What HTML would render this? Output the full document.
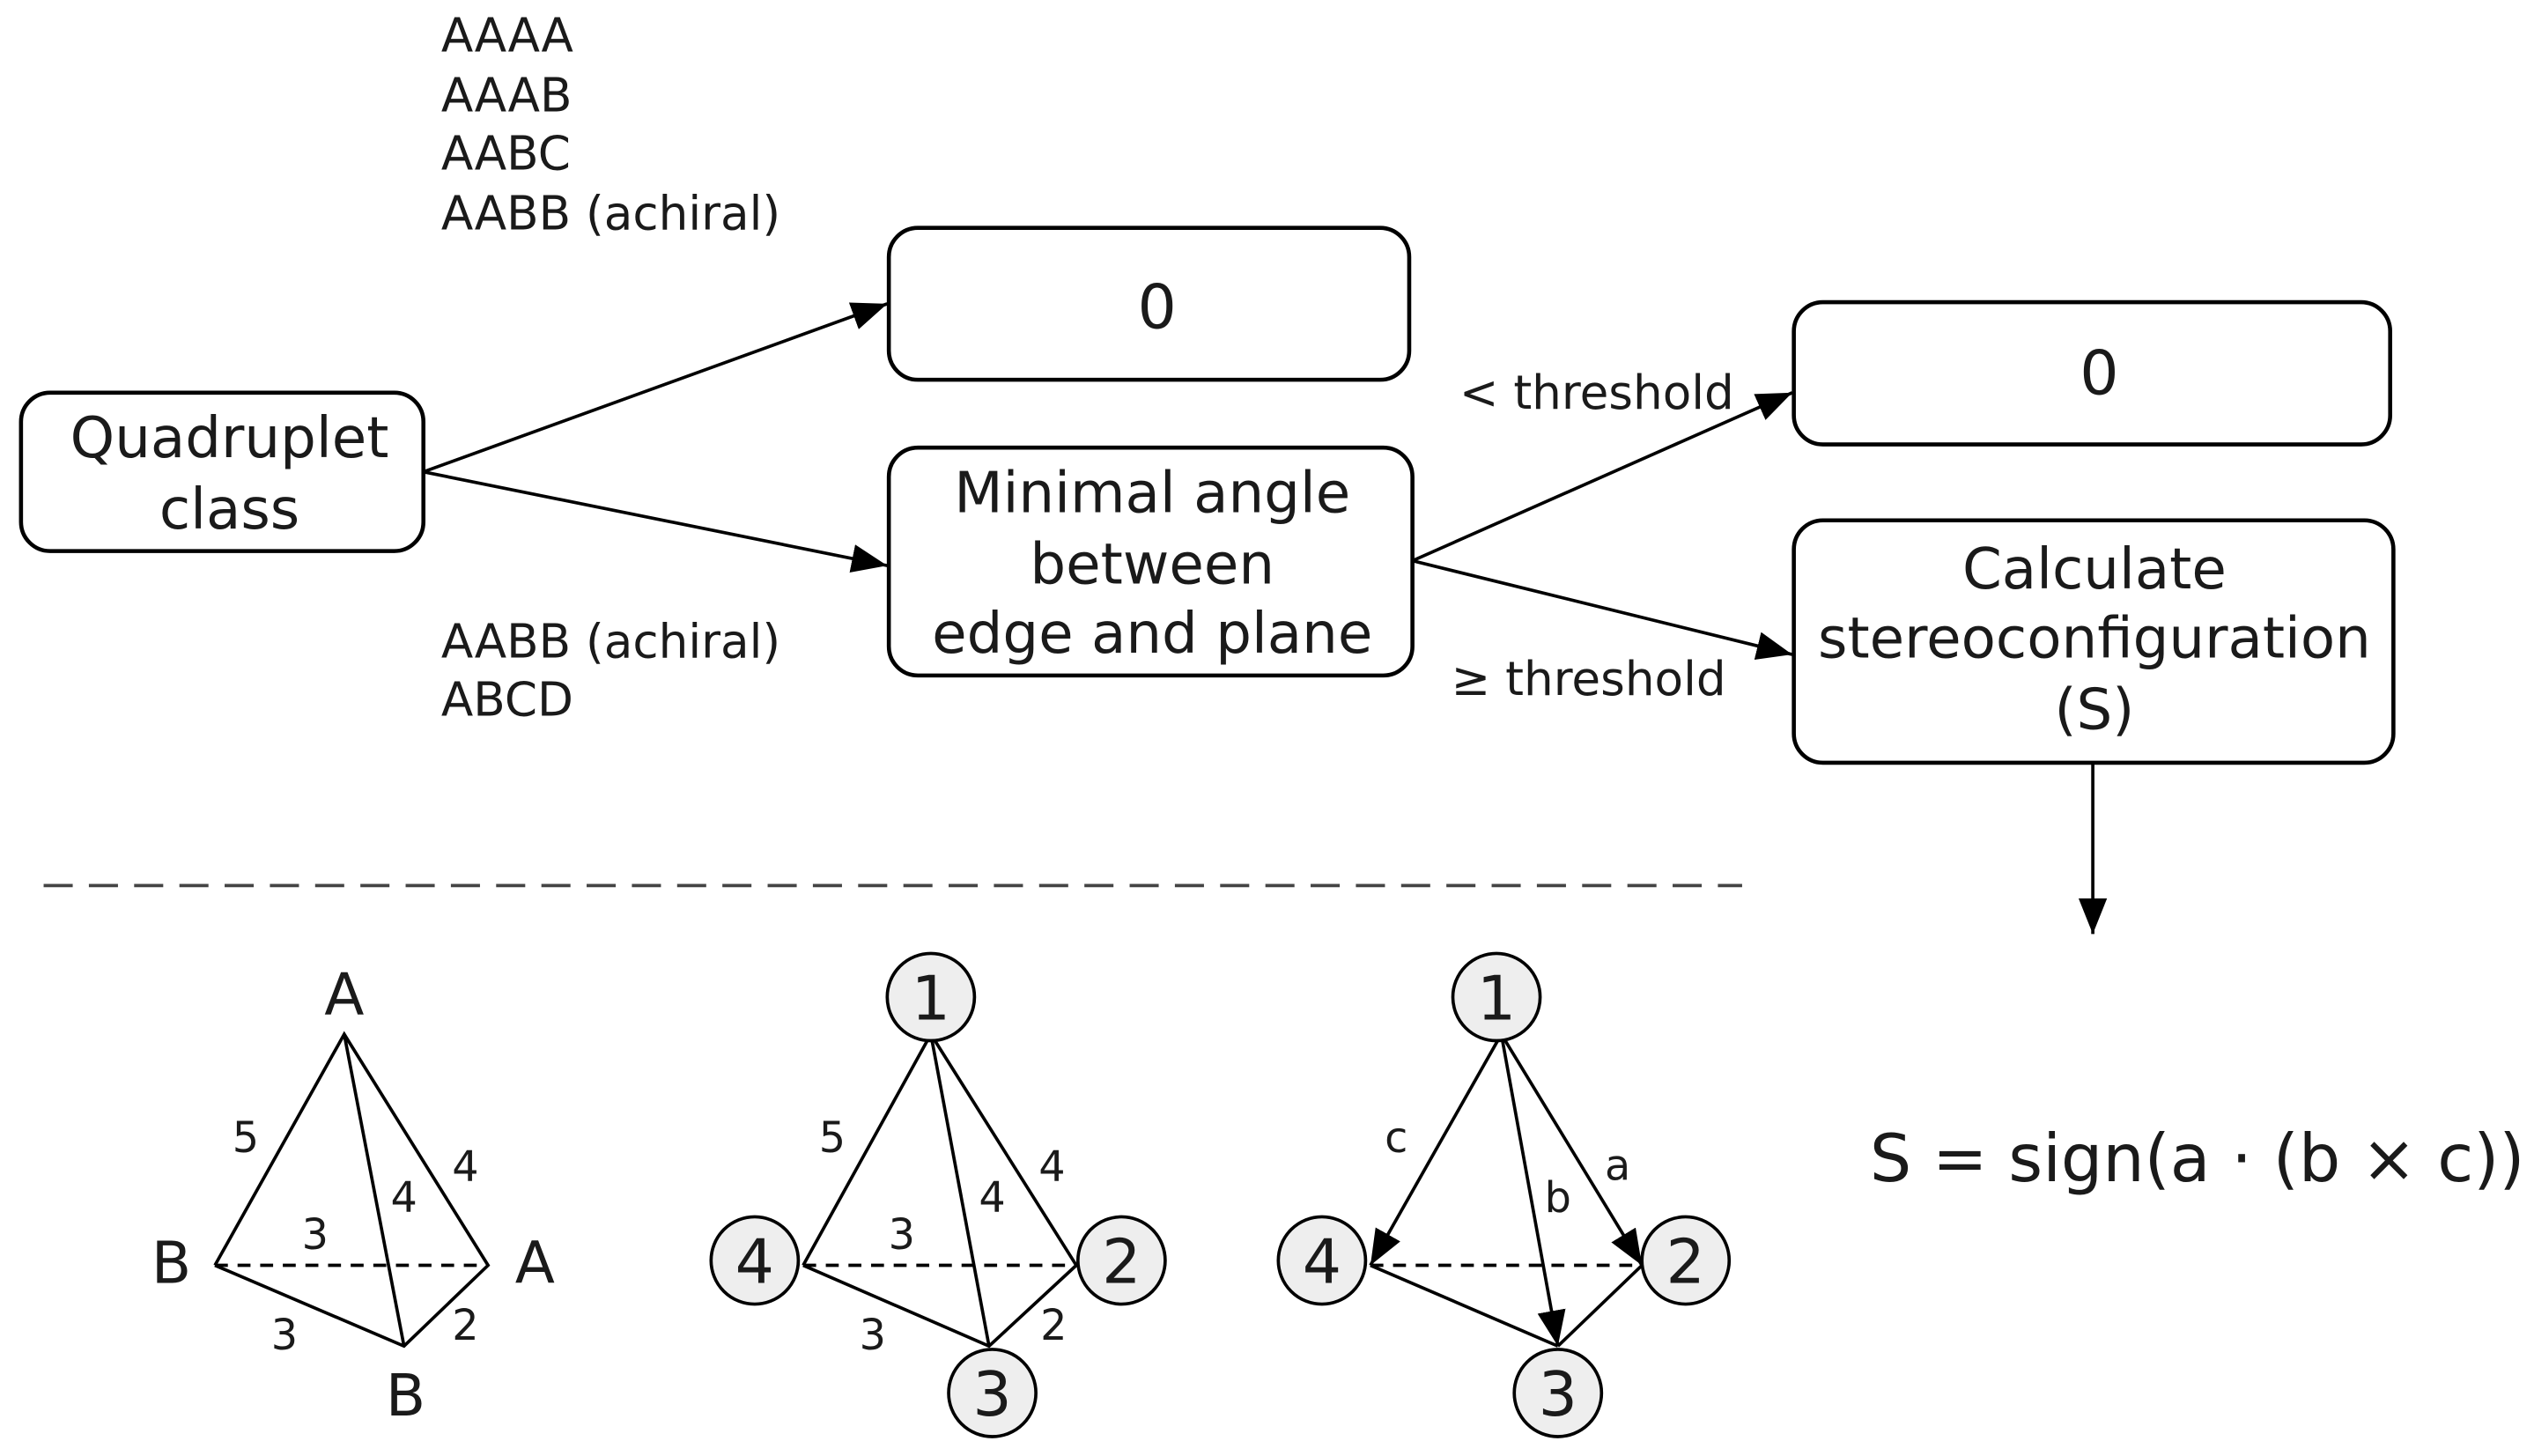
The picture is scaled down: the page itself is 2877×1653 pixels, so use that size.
<!DOCTYPE html>
<html><head><meta charset="utf-8"><style>
html,body{margin:0;padding:0;background:#fff;}
svg{display:block;}
text{font-family:"DejaVu Sans","Liberation Sans",sans-serif;fill:#1a1a1a;}
</style></head><body>
<svg width="2877" height="1653" viewBox="0 0 1568 901" preserveAspectRatio="none" xmlns="http://www.w3.org/2000/svg">
<defs>
<marker id="ahb" viewBox="0 0 10 10" refX="10" refY="5" markerWidth="22" markerHeight="22" markerUnits="userSpaceOnUse" orient="auto">
<path d="M0,1 L10,5 L0,9 z" fill="#000"/></marker>
</defs>
<g font-size="29">
<text x="273" y="32">AAAA</text>
<text x="273" y="69">AAAB</text>
<text x="273" y="105">AABC</text>
<text x="273" y="142">AABB (achiral)</text>
<text x="273" y="407">AABB (achiral)</text>
<text x="273" y="443">ABCD</text>
<text x="903" y="253">&lt; threshold</text>
<text x="898" y="430">≥ threshold</text>
</g>
<g fill="#fff" stroke="#000" stroke-width="2.5">
<rect x="13" y="243" width="249" height="98" rx="18"/>
<rect x="550" y="141" width="322" height="94" rx="18"/>
<rect x="550" y="277" width="324" height="141" rx="18"/>
<rect x="1110" y="187" width="369" height="88" rx="18"/>
<rect x="1110" y="322" width="371" height="150" rx="18"/>
</g>
<g font-size="35" text-anchor="middle">
<text x="142" y="283">Quadruplet</text>
<text x="142" y="327">class</text>
<text x="716" y="203" font-size="38">0</text>
<text x="713" y="317">Minimal angle</text>
<text x="713" y="361">between</text>
<text x="713" y="404">edge and plane</text>
<text x="1299" y="244" font-size="38">0</text>
<text x="1296" y="364">Calculate</text>
<text x="1296" y="407">stereoconfiguration</text>
<text x="1296" y="451">(S)</text>
</g>
<g stroke="#000" stroke-width="2" fill="none">
<line x1="262" y1="292" x2="549" y2="188" marker-end="url(#ahb)"/>
<line x1="262" y1="292" x2="549" y2="350" marker-end="url(#ahb)"/>
<line x1="874" y1="347" x2="1109" y2="243" marker-end="url(#ahb)"/>
<line x1="874" y1="347" x2="1109" y2="405" marker-end="url(#ahb)"/>
<line x1="1295" y1="472" x2="1295" y2="578" marker-end="url(#ahb)"/>
<line x1="27" y1="548" x2="1078" y2="548" stroke-dasharray="18,10" stroke="#444"/>
</g>
<text x="1157" y="731" font-size="40.7">S = sign(a · (b × c))</text>
<g stroke="#000" stroke-width="2" fill="none">
<polyline points="133,783 213,640 302,783 250,833 133,783"/>
<line x1="213" y1="640" x2="250" y2="833"/>
<line x1="133" y1="783" x2="302" y2="783" stroke-dasharray="8,6"/>
</g>
<g font-size="26" text-anchor="middle">
<text x="152" y="713">5</text><text x="288" y="731">4</text><text x="250" y="750">4</text>
<text x="195" y="773">3</text><text x="176" y="835">3</text><text x="288" y="829">2</text>
</g>
<g font-size="36" text-anchor="middle">
<text x="213" y="628">A</text><text x="106" y="794">B</text><text x="331" y="794">A</text><text x="251" y="876">B</text>
</g>
<g stroke="#000" stroke-width="2" fill="none">
<polyline points="497,783 576,640 666,783 612,833 497,783"/>
<line x1="576" y1="640" x2="612" y2="833"/>
<line x1="497" y1="783" x2="666" y2="783" stroke-dasharray="8,6"/>
</g>
<g font-size="26" text-anchor="middle">
<text x="515" y="713">5</text><text x="651" y="731">4</text><text x="614" y="750">4</text>
<text x="558" y="773">3</text><text x="540" y="835">3</text><text x="652" y="829">2</text>
</g>
<g stroke="#000" stroke-width="2" fill="none">
<line x1="929" y1="640" x2="848" y2="783" marker-end="url(#ahb)"/>
<line x1="929" y1="640" x2="1016" y2="783" marker-end="url(#ahb)"/>
<line x1="929" y1="640" x2="964" y2="833" marker-end="url(#ahb)"/>
<line x1="848" y1="783" x2="1016" y2="783" stroke-dasharray="8,6"/>
<line x1="848" y1="783" x2="964" y2="833"/>
<line x1="1016" y1="783" x2="964" y2="833"/>
</g>
<g font-size="26" text-anchor="middle">
<text x="864" y="713">c</text><text x="1001" y="730">a</text><text x="964" y="750">b</text>
</g>
<g fill="#eeeeee" stroke="#000" stroke-width="2">
<circle cx="576" cy="617" r="27"/><circle cx="467" cy="780" r="27"/><circle cx="694" cy="780" r="27"/><circle cx="614" cy="862" r="27"/>
<circle cx="926" cy="617" r="27"/><circle cx="818" cy="780" r="27"/><circle cx="1043" cy="780" r="27"/><circle cx="964" cy="862" r="27"/>
</g>
<g font-size="38" text-anchor="middle">
<text x="576" y="631">1</text><text x="467" y="794">4</text><text x="694" y="794">2</text><text x="614" y="876">3</text>
<text x="926" y="631">1</text><text x="818" y="794">4</text><text x="1043" y="794">2</text><text x="964" y="876">3</text>
</g>
</svg>
</body></html>
